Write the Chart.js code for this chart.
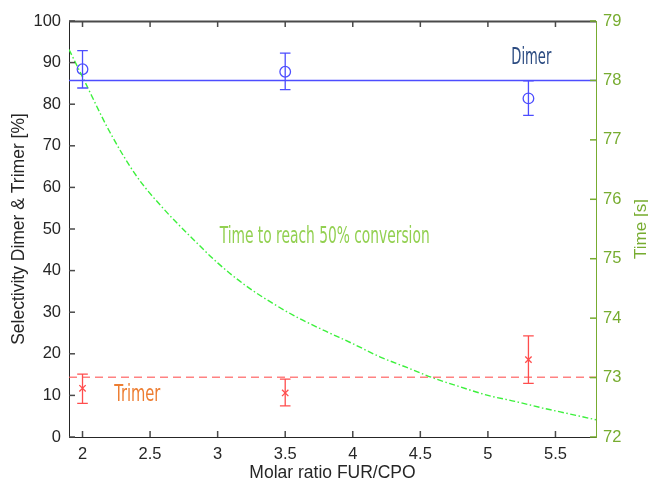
<!DOCTYPE html>
<html>
<head>
<meta charset="utf-8">
<script src="https://cdn.jsdelivr.net/npm/chart.js@4/dist/chart.umd.min.js"></script>
<style>
  html, body { margin: 0; padding: 0; background: #ffffff; }
  #wrap { width: 648px; height: 485px; }
</style>
</head>
<body>
<div id="wrap"><canvas id="chart" width="648" height="485"></canvas></div>
<script>
// Tick values for the three axes
const ratioTicks = [2, 2.5, 3, 3.5, 4, 4.5, 5, 5.5];
const selectivityTicks = [0, 10, 20, 30, 40, 50, 60, 70, 80, 90, 100];
const timeTicks = [72, 73, 74, 75, 76, 77, 78, 79];

// Measured selectivities with error ranges
const ratios = [2, 3.5, 5.3];
const dimerSel = [88.4, 87.8, 81.4];
const dimerLow = [83.9, 83.5, 77.3];
const dimerHigh = [92.9, 92.3, 85.6];
const trimerSel = [11.7, 10.6, 18.6];
const trimerLow = [8.1, 7.5, 12.9];
const trimerHigh = [15.1, 13.9, 24.3];

// Average selectivity lines
const dimerMean = 85.7;
const trimerMean = 14.35;

// Time needed to reach 50% conversion
const curveRatio = [1.9, 2.0, 2.2, 2.4, 2.6, 2.8, 3.0, 3.2, 3.4, 3.6, 3.8, 4.0, 4.2, 4.4, 4.6, 4.8, 5.0, 5.2, 5.4, 5.6, 5.8];
const timeToHalf = [78.52, 78.06, 77.14, 76.39, 75.84, 75.37, 74.93, 74.56, 74.26, 74.00, 73.78, 73.57, 73.35, 73.17, 72.99, 72.84, 72.70, 72.60, 72.49, 72.39, 72.29];

const X_MIN = 1.9, X_MAX = 5.8;
const AXIS_DARK = '#262626';
const AXIS_GREEN = '#77ac30';
const DIMER_BLUE = '#4d4dff';
const TRIMER_RED = '#ff4d4d';
const TICK_FONT = { family: '"Liberation Sans", Arial, sans-serif', size: 16.5 };
const TITLE_FONT = { family: '"Liberation Sans", Arial, sans-serif', size: 17.5 };

function toTicks(list) { return list.map(v => ({ value: v })); }

// Vertical error bars with caps
const errorBars = {
  id: 'errorBars',
  afterDatasetsDraw(chart) {
    const { ctx, scales: { x, y } } = chart;
    const sets = [
      { low: dimerLow, high: dimerHigh, color: DIMER_BLUE },
      { low: trimerLow, high: trimerHigh, color: TRIMER_RED }
    ];
    ctx.save();
    ctx.setLineDash([]);
    ctx.lineWidth = 1.3;
    sets.forEach(s => {
      ctx.strokeStyle = s.color;
      ratios.forEach((r, i) => {
        const px = x.getPixelForValue(r);
        const y1 = y.getPixelForValue(s.low[i]);
        const y2 = y.getPixelForValue(s.high[i]);
        ctx.beginPath();
        ctx.moveTo(px, y1); ctx.lineTo(px, y2);
        ctx.moveTo(px - 5.3, y1); ctx.lineTo(px + 5.3, y1);
        ctx.moveTo(px - 5.3, y2); ctx.lineTo(px + 5.3, y2);
        ctx.stroke();
      });
    });
    ctx.restore();
  }
};

// Box outline, inward tick marks and right-hand axis title
const frame = {
  id: 'frame',
  afterDraw(chart) {
    const { ctx, chartArea: a, scales: { x, y, y2 } } = chart;
    const len = 6;
    ctx.save();
    ctx.setLineDash([]);
    ctx.fillStyle = '#4a4a4a';
    ctx.fillRect(a.left, a.top - 0.5, a.right - a.left, 2);
    ratioTicks.forEach(v => {
      const px = x.getPixelForValue(v);
      ctx.fillRect(px - 0.75, a.bottom - len, 1.5, len);
      ctx.fillRect(px - 0.75, a.top, 1.5, len);
    });
    selectivityTicks.forEach(v => {
      const py = y.getPixelForValue(v);
      ctx.fillRect(a.left, py - 0.75, len, 1.5);
    });
    ctx.fillStyle = AXIS_GREEN;
    timeTicks.forEach(v => {
      const py = y2.getPixelForValue(v);
      ctx.fillRect(a.right - len, py - 0.75, len, 1.5);
    });

    ctx.translate(645.5, (a.top + a.bottom) / 2);
    ctx.rotate(-Math.PI / 2);
    ctx.font = '17px "Liberation Sans", Arial, sans-serif';
    ctx.fillStyle = AXIS_GREEN;
    ctx.textAlign = 'center';
    ctx.textBaseline = 'alphabetic';
    ctx.fillText('Time [s]', 0, 0);
    ctx.restore();
  }
};

// Narrow in-plot captions
function caption(ctx, text, px, py, color, width) {
  ctx.save();
  ctx.font = '23px "DejaVu Sans Condensed", "DejaVu Sans", sans-serif';
  const w = ctx.measureText(text).width;
  ctx.translate(px, py);
  ctx.scale(width / w, 1);
  ctx.fillStyle = color;
  ctx.textAlign = 'center';
  ctx.textBaseline = 'alphabetic';
  ctx.fillText(text, 0, 0);
  ctx.restore();
}

const captions = {
  id: 'captions',
  afterDatasetsDraw(chart) {
    const { ctx, scales: { x, y } } = chart;
    caption(ctx, 'Dimer', x.getPixelForValue(5.321), y.getPixelForValue(89.7), '#2a4a80', 40);
    caption(ctx, 'Trimer', x.getPixelForValue(2.406), y.getPixelForValue(8.73), '#ed7d31', 46);
    caption(ctx, 'Time to reach 50% conversion', x.getPixelForValue(3.792), y.getPixelForValue(46.6), '#92d050', 210);
  }
};

new Chart(document.getElementById('chart'), {
  type: 'scatter',
  data: {
    datasets: [
      {
        label: 'Dimer average',
        data: [{ x: X_MIN, y: dimerMean }, { x: X_MAX, y: dimerMean }],
        showLine: true, borderColor: DIMER_BLUE, borderWidth: 1.3,
        pointRadius: 0, yAxisID: 'y'
      },
      {
        label: 'Trimer average',
        data: [{ x: X_MIN, y: trimerMean }, { x: X_MAX, y: trimerMean }],
        showLine: true, borderColor: 'rgba(255,77,77,0.7)', borderWidth: 1.5,
        borderDash: [8, 5], pointRadius: 0, yAxisID: 'y'
      },
      {
        label: 'Time to reach 50% conversion',
        data: curveRatio.map((r, i) => ({ x: r, y: timeToHalf[i] })),
        showLine: true, borderColor: '#3cf03c', borderWidth: 1.4,
        borderDash: [6, 2.5, 1.5, 2.5], pointRadius: 0,
        cubicInterpolationMode: 'monotone', yAxisID: 'y2'
      },
      {
        label: 'Dimer',
        data: ratios.map((r, i) => ({ x: r, y: dimerSel[i] })),
        showLine: false, pointStyle: 'circle', pointRadius: 5.3,
        borderColor: DIMER_BLUE, backgroundColor: 'rgba(0,0,0,0)', borderWidth: 1.3,
        yAxisID: 'y'
      },
      {
        label: 'Trimer',
        data: ratios.map((r, i) => ({ x: r, y: trimerSel[i] })),
        showLine: false, pointStyle: 'crossRot', pointRadius: 4.5,
        borderColor: TRIMER_RED, borderWidth: 1.3,
        yAxisID: 'y'
      }
    ]
  },
  options: {
    responsive: false,
    animation: false,
    layout: { padding: { top: 21, left: 0, right: 0, bottom: 0 } },
    plugins: { legend: { display: false }, tooltip: { enabled: false } },
    scales: {
      x: {
        type: 'linear', min: X_MIN, max: X_MAX,
        afterBuildTicks: s => { s.ticks = toTicks(ratioTicks); },
        afterFit: s => { s.height = 48; },
        grid: { display: false, drawTicks: false },
        border: { display: true, color: AXIS_DARK, width: 1 },
        ticks: { color: AXIS_DARK, font: TICK_FONT, padding: 8, maxRotation: 0, callback: v => String(v) },
        title: { display: true, text: 'Molar ratio FUR/CPO', color: AXIS_DARK, font: TITLE_FONT, padding: { top: 0, bottom: 1 } }
      },
      y: {
        type: 'linear', position: 'left', min: 0, max: 100,
        afterBuildTicks: s => { s.ticks = toTicks(selectivityTicks); },
        afterFit: s => { s.width = 69; },
        grid: { display: false, drawTicks: false },
        border: { display: true, color: AXIS_DARK, width: 1 },
        ticks: { color: AXIS_DARK, font: TICK_FONT, padding: 8, callback: v => String(v) },
        title: { display: true, text: 'Selectivity Dimer & Trimer [%]', color: AXIS_DARK, font: TITLE_FONT, padding: { top: 9, bottom: 0 } }
      },
      y2: {
        type: 'linear', position: 'right', min: 72, max: 79,
        afterBuildTicks: s => { s.ticks = toTicks(timeTicks); },
        afterFit: s => { s.width = 52; },
        grid: { display: false, drawTicks: false },
        border: { display: true, color: AXIS_GREEN, width: 1 },
        ticks: { color: AXIS_GREEN, font: TICK_FONT, padding: 7, callback: v => String(v) },
        title: { display: false }
      }
    }
  },
  plugins: [errorBars, captions, frame]
});
</script>
</body>
</html>
